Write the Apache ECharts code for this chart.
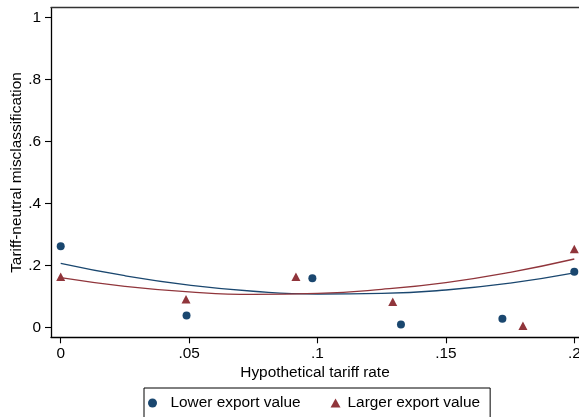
<!DOCTYPE html>
<html>
<head>
<meta charset="utf-8">
<script src="https://cdn.jsdelivr.net/npm/echarts@6/dist/echarts.min.js"></script>
<style>
html,body{margin:0;padding:0;background:#fff;}
#chart{width:579px;height:417px;}
</style>
</head>
<body>
<div id="chart"></div>
<script>
// Data
var xTicks = [0, 0.05, 0.1, 0.15, 0.2];
var yTicks = [0, 0.2, 0.4, 0.6, 0.8, 1];

var lowerX = [0, 0.049, 0.098, 0.1325, 0.172, 0.2];
var lowerY = [0.262, 0.039, 0.159, 0.010, 0.028, 0.180];

var largerX = [0, 0.0488, 0.0916, 0.1293, 0.180, 0.2];
var largerY = [0.164, 0.091, 0.164, 0.083, 0.006, 0.253];

var fitX = [0, 0.025, 0.05, 0.075, 0.1, 0.125, 0.15, 0.175, 0.2];
var lowerFit = [0.207, 0.167, 0.137, 0.117, 0.108, 0.110, 0.121, 0.143, 0.176];
var largerFit = [0.161, 0.133, 0.115, 0.107, 0.110, 0.123, 0.145, 0.178, 0.221];

var seriesNames = ['Lower export value', 'Larger export value'];
var xTitle = 'Hypothetical tariff rate';
var yTitle = 'Tariff-neutral misclassification';

function zip(a, b) { return a.map(function (v, i) { return [v, b[i]]; }); }
function fmt(v) { return v === 0 ? '0' : String(v).replace(/^0/, ''); }

var BLUE = '#1a476f', RED = '#90353b';
var FONT = "'Liberation Sans', Arial, sans-serif";
var FS = 15.4;

var chart = echarts.init(document.getElementById('chart'), null, {renderer: 'canvas'});
chart.setOption({
  animation: false,
  backgroundColor: '#fff',
  textStyle: {fontFamily: FONT, color: '#000'},
  grid: {left: 51, right: 0, top: 7.7, bottom: 79.7, containLabel: false, outerBoundsMode: 'none'},
  xAxis: [{
    type: 'value', min: -0.00378, max: 0.20183,
    name: xTitle, nameLocation: 'middle', nameGap: 27.5, nameMoveOverlap: false,
    nameTextStyle: {fontSize: FS, color: '#000', fontFamily: FONT},
    axisLine: {show: true, onZero: false, lineStyle: {color: '#000', width: 1.3}},
    axisTick: {show: true, length: 6, customValues: xTicks, lineStyle: {color: '#000', width: 1.1}},
    axisLabel: {customValues: xTicks, formatter: fmt, margin: 9, fontSize: FS, color: '#000', fontFamily: FONT, hideOverlap: false},
    splitLine: {show: false}
  }, {
    type: 'value', position: 'top', min: -0.00378, max: 0.20183,
    axisLine: {show: true, onZero: false, lineStyle: {color: '#333', width: 1.3}},
    axisTick: {show: false}, axisLabel: {show: false}, splitLine: {show: false}
  }],
  yAxis: {
    type: 'value', min: -0.0316, max: 1.0316,
    name: yTitle, nameLocation: 'middle', nameGap: 27, nameRotate: 90, nameMoveOverlap: false,
    nameTextStyle: {fontSize: FS, color: '#000', fontFamily: FONT},
    axisLine: {show: true, onZero: false, lineStyle: {color: '#000', width: 1.3}},
    axisTick: {show: true, length: 6, customValues: yTicks, lineStyle: {color: '#000', width: 1.1}},
    axisLabel: {customValues: yTicks, formatter: fmt, margin: 10, fontSize: FS, color: '#000', fontFamily: FONT},
    splitLine: {show: false}
  },
  legend: {
    data: [
      {name: seriesNames[0]},
      {name: seriesNames[1], textStyle: {padding: [0, 0, 0, 2]}}
    ],
    left: 144, top: 388,
    orient: 'horizontal',
    borderColor: '#000', borderWidth: 1,
    padding: [7.5, 10, 7.5, 4],
    itemWidth: 10, itemHeight: 9, itemGap: 30,
    textStyle: {fontSize: FS, color: '#000', fontFamily: FONT, padding: [0, 0, 0, 8]}
  },
  series: [
    {
      name: seriesNames[0], type: 'scatter', symbol: 'circle', symbolSize: 8,
      itemStyle: {color: BLUE, opacity: 1}, data: zip(lowerX, lowerY), z: 3
    },
    {
      name: seriesNames[1], type: 'scatter', symbol: 'triangle', symbolSize: [9, 8.5],
      itemStyle: {color: RED, opacity: 1}, data: zip(largerX, largerY), z: 3
    },
    {
      name: 'fit-lower', type: 'line', smooth: true, showSymbol: false, symbol: 'none',
      lineStyle: {color: BLUE, width: 1.3}, data: zip(fitX, lowerFit), z: 2, silent: true
    },
    {
      name: 'fit-larger', type: 'line', smooth: true, showSymbol: false, symbol: 'none',
      lineStyle: {color: RED, width: 1.3}, data: zip(fitX, largerFit), z: 2, silent: true
    }
  ]
});
</script>
</body>
</html>
